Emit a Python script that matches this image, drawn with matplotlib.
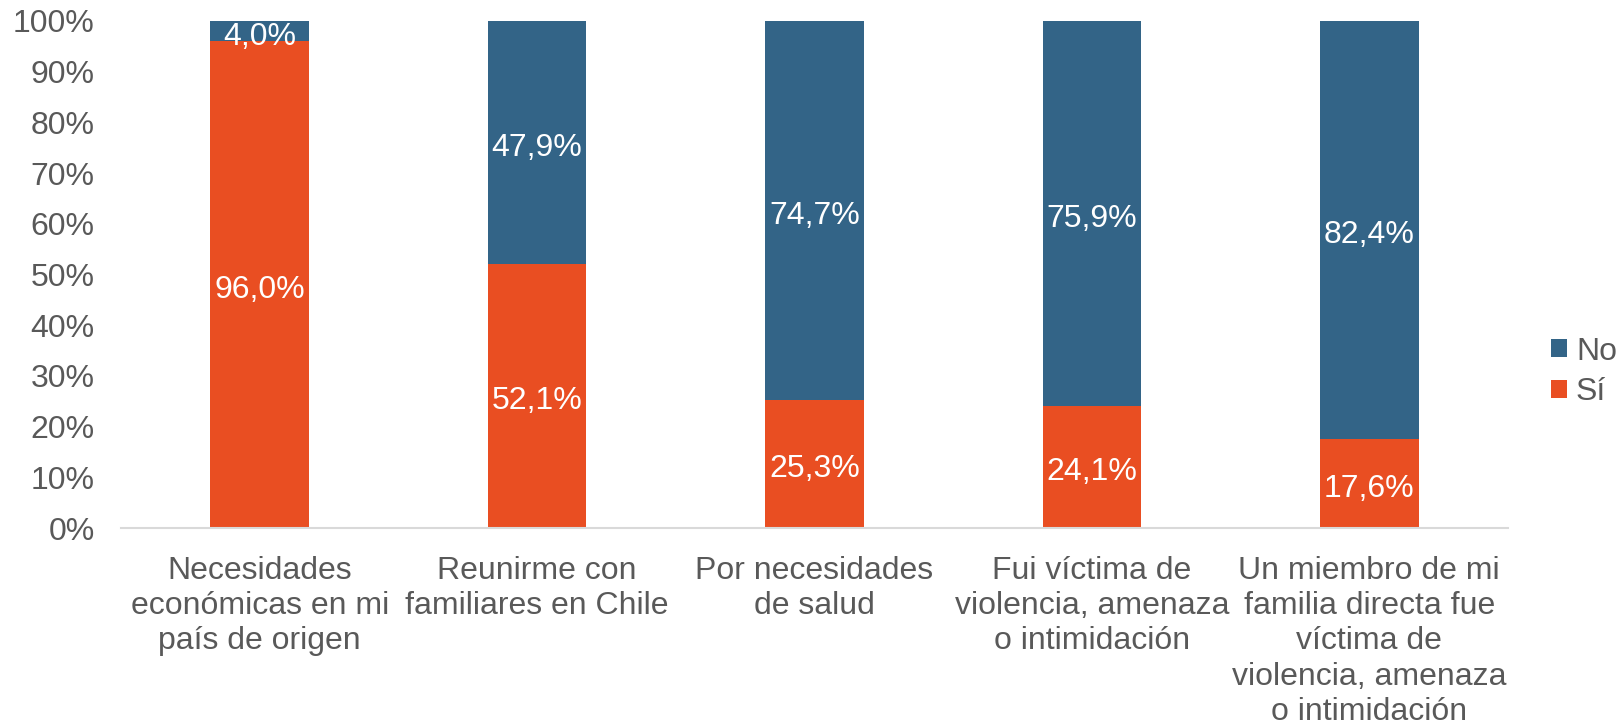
import matplotlib
matplotlib.use("Agg")
import matplotlib.pyplot as plt
import numpy as np
from matplotlib.ticker import PercentFormatter, MultipleLocator
from matplotlib.transforms import offset_copy

categories = [
    "Necesidades\neconómicas en mi\npaís de origen",
    "Reunirme con\nfamiliares en Chile",
    "Por necesidades\nde salud",
    "Fui víctima de\nviolencia, amenaza\no intimidación",
    "Un miembro de mi\nfamilia directa fue\nvíctima de\nviolencia, amenaza\no intimidación",
]
si_values = [96.0, 52.1, 25.3, 24.1, 17.6]
no_values = [4.0, 47.9, 74.7, 75.9, 82.4]
series_names = ["Sí", "No"]

plt.rcParams['font.family'] = ['Liberation Sans', 'DejaVu Sans']
GRAY = "#595959"
BLUE = "#336487"
ORANGE = "#E94E22"
FS = 23

fig = plt.figure(figsize=(16.2, 7.27), dpi=100)
ax = fig.add_axes([121/1620, 1-528/727, (1508-121)/1620, (528-21)/727])

x = np.arange(len(categories))
w = 0.356
b1 = ax.bar(x, si_values, w, color=ORANGE, label=series_names[0])
b2 = ax.bar(x, no_values, w, bottom=si_values, color=BLUE, label=series_names[1])

tr = offset_copy(ax.transData, fig=fig, x=0, y=-4, units="points")
for rects, vals, bots in [(b1, si_values, [0]*5), (b2, no_values, si_values)]:
    for r, v, b in zip(rects, vals, bots):
        ax.text(r.get_x() + r.get_width()/2, b + v/2, f"{v:.1f}%".replace(".", ","),
                ha="center", va="center", color="white", fontsize=FS, transform=tr)

ax.set_xlim(-0.5, len(categories) - 0.5)
ax.set_ylim(0, 100)
ax.yaxis.set_major_locator(MultipleLocator(10))
ax.yaxis.set_major_formatter(PercentFormatter(decimals=0))
ax.set_xticks(x)
ax.set_xticklabels(categories, linespacing=1.23)
ax.tick_params(axis="both", length=0, labelsize=FS, labelcolor=GRAY)
ax.tick_params(axis="y", pad=19)
ax.tick_params(axis="x", pad=20)
for s in ["top", "right", "left"]:
    ax.spines[s].set_visible(False)
ax.spines["bottom"].set_color("#D9D9D9")
ax.spines["bottom"].set_linewidth(1.5)

handles = [b2, b1]
fig.legend(handles, [series_names[1], series_names[0]], loc="center left",
           bbox_to_anchor=(1551/1620, 1-372/727), frameon=False, fontsize=FS,
           labelcolor=GRAY, handlelength=0.5, handleheight=0.5, handletextpad=0.28,
           labelspacing=0.33, borderaxespad=0, borderpad=0)

fig.savefig("out.png", dpi=100)
